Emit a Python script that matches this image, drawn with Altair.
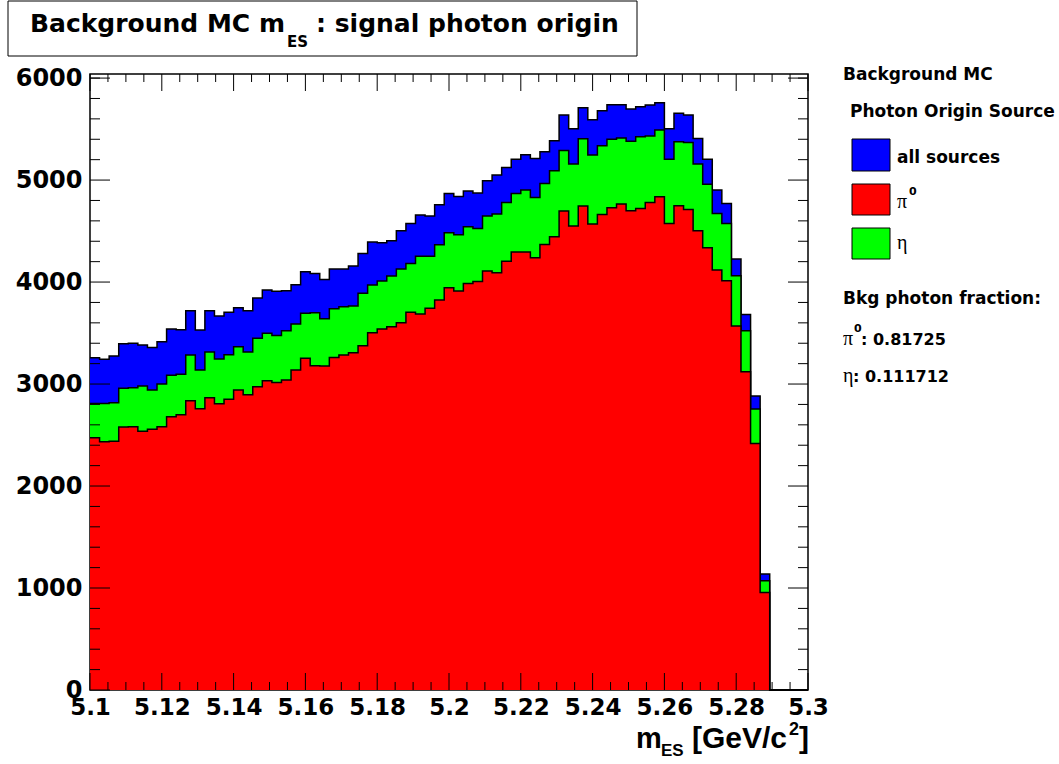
import altair as alt
import numpy as np
import pandas as pd

# ---- histogram contents (75 bins from 5.1 to 5.3 GeV/c^2) ----
all_sources = [3258, 3242, 3275, 3395, 3399, 3382, 3359, 3415, 3539, 3533,
               3719, 3529, 3719, 3667, 3703, 3748, 3719, 3843, 3922, 3909,
               3915, 3974, 4101, 4085, 4026, 4127, 4127, 4157, 4281, 4392,
               4386, 4405, 4503, 4575, 4657, 4647, 4758, 4869, 4840, 4892,
               4873, 4993, 5049, 5124, 5203, 5248, 5212, 5278, 5386, 5637,
               5503, 5709, 5591, 5680, 5739, 5739, 5696, 5719, 5735, 5758,
               5503, 5654, 5637, 5408, 5203, 4902, 4771, 4225, 3683, 2882,
               1137, 0, 0, 0, 0]
pi0_plus_eta = [2810, 2810, 2817, 2958, 2964, 2980, 2941, 3000, 3085, 3095,
                3284, 3137, 3314, 3245, 3288, 3366, 3314, 3448, 3497, 3477,
                3523, 3588, 3693, 3699, 3641, 3739, 3758, 3765, 3889, 3971,
                4010, 4059, 4127, 4183, 4252, 4252, 4366, 4484, 4464, 4542,
                4526, 4647, 4667, 4781, 4869, 4902, 4830, 4967, 5092, 5291,
                5157, 5405, 5245, 5337, 5399, 5412, 5380, 5425, 5431, 5490,
                5203, 5376, 5369, 5157, 4958, 4673, 4575, 4062, 3523, 2755,
                1072, 0, 0, 0, 0]
pi0 = [2474, 2435, 2438, 2578, 2582, 2536, 2556, 2582, 2680, 2699,
       2837, 2758, 2866, 2807, 2850, 2941, 2895, 2974, 3033, 3016,
       3039, 3137, 3252, 3180, 3176, 3261, 3284, 3307, 3376, 3503,
       3539, 3562, 3601, 3703, 3686, 3742, 3824, 3944, 3913, 3987,
       4006, 4108, 4091, 4203, 4294, 4294, 4239, 4369, 4444, 4696,
       4549, 4745, 4569, 4663, 4729, 4765, 4699, 4722, 4781, 4837,
       4575, 4748, 4712, 4503, 4337, 4118, 4013, 3570, 3121, 2418,
       957, 0, 0, 0, 0]

x_min, x_max, n_bins = 5.1, 5.3, 75
y_max = 6040

x_major = [5.1, 5.12, 5.14, 5.16, 5.18, 5.2, 5.22, 5.24, 5.26, 5.28, 5.3]
x_minor = [5.105, 5.11, 5.115, 5.125, 5.13, 5.135, 5.145, 5.15, 5.155,
           5.165, 5.17, 5.175, 5.185, 5.19, 5.195, 5.205, 5.21, 5.215,
           5.225, 5.23, 5.235, 5.245, 5.25, 5.255, 5.265, 5.27, 5.275,
           5.285, 5.29, 5.295]
y_major = [0, 1000, 2000, 3000, 4000, 5000, 6000]
y_minor = [200, 400, 600, 800, 1200, 1400, 1600, 1800, 2200, 2400, 2600, 2800,
           3200, 3400, 3600, 3800, 4200, 4400, 4600, 4800, 5200, 5400, 5600,
           5800, 6000]

edges = np.linspace(x_min, x_max, n_bins + 1)
hist = pd.DataFrame({
    "x": edges,
    "all": all_sources + [0],
    "pe": pi0_plus_eta + [0],
    "pi": pi0 + [0],
})

W, H = 718, 616
FONT = "DejaVu Sans"
HELV = "Liberation Sans"
xs = alt.Scale(domain=[x_min, x_max], nice=False, zero=False)
ys = alt.Scale(domain=[0, y_max], nice=False, zero=True)
one = pd.DataFrame({"k": [0]})

XAX = alt.Axis(values=x_major, format="~g", title=None, ticks=False,
               tickSize=0, domain=False, grid=False, labelFont=FONT,
               labelFontWeight="bold", labelFontSize=23,
               labelColor="black", labelPadding=6, labelFlush=False,
               labelOverlap=False)
YAX = alt.Axis(values=y_major, format="d", title=None, ticks=False,
               tickSize=0, domain=False, grid=False, labelFont=FONT,
               labelFontWeight="bold", labelFontSize=24,
               labelColor="black", labelPadding=8, labelFlush=False,
               labelOverlap=False)


def area(field, color):
    return alt.Chart(hist).mark_area(
        interpolate="step-after", color=color, opacity=1,
        line=alt.OverlayMarkDef(color="black", strokeWidth=1.5),
    ).encode(
        x=alt.X("x:Q", scale=xs, axis=XAX),
        y=alt.Y(f"{field}:Q", scale=ys, axis=YAX),
    )


def xticks(vals, y0, y1):
    return alt.Chart(pd.DataFrame({"x": vals})).mark_rule(
        color="black", strokeWidth=1).encode(
        x=alt.X("x:Q", scale=xs, axis=XAX),
        y=alt.value(y0), y2=alt.value(y1))


def yticks(vals, x0, x1):
    return alt.Chart(pd.DataFrame({"all": vals})).mark_rule(
        color="black", strokeWidth=1).encode(
        y=alt.Y("all:Q", scale=ys, axis=YAX),
        x=alt.value(x0), x2=alt.value(x1))


def txt(s, x, y, size, font=FONT, weight="bold", align="left"):
    return alt.Chart(one).mark_text(
        text=s, font=font, fontSize=size, fontWeight=weight, align=align,
        baseline="alphabetic", color="black").encode(
        x=alt.value(x), y=alt.value(y))


def box(x0, x1, y0, y1, fill, sw=1):
    return alt.Chart(one).mark_rect(
        fill=fill, stroke="black", strokeWidth=sw).encode(
        x=alt.value(x0), x2=alt.value(x1), y=alt.value(y0), y2=alt.value(y1))


layers = [
    area("all", "#0000ff"),
    area("pe", "#00ff00"),
    area("pi", "#ff0000"),
    # inward ticks on all four sides
    xticks(x_major, H, H - 17), xticks(x_minor, H, H - 8),
    xticks(x_major, 0, 17), xticks(x_minor, 0, 8),
    yticks(y_major, 0, 20), yticks(y_minor, 0, 10),
    yticks(y_major, W - 20, W), yticks(y_minor, W - 10, W),
    # title box
    box(-82, 547, -73, -18, "white"),
    txt("Background MC m", -60, -42, 25),
    txt("ES", 197, -27, 15),
    txt(": signal photon origin", 226, -42, 25),
    # x-axis title
    txt("m", 546, 674, 29, font=HELV),
    txt("ES", 571, 682, 17, font=HELV),
    txt("[GeV/c", 697, 674, 30, font=HELV, align="right"),
    txt("2", 699, 661, 18, font=HELV),
    txt("]", 709, 674, 30, font=HELV),
    # legend
    txt("Background MC", 753, 6, 17),
    txt("Photon Origin Source", 760, 43, 17),
    box(762, 800, 65, 97, "#0000ff"),
    box(762, 800, 110, 141, "#ff0000"),
    box(762, 800, 154, 185, "#00ff00"),
    txt("all sources", 807, 89, 17),
    txt("\u03c0", 807, 134, 20, font="Liberation Serif", weight="normal"),
    txt("0", 819, 121, 11),
    txt("\u03b7", 807, 175, 20, font="Liberation Serif", weight="normal"),
    txt("Bkg photon fraction:", 753, 230, 17),
    txt("\u03c0", 753, 271, 20, font="Liberation Serif", weight="normal"),
    txt("0", 764, 258, 11),
    txt(": 0.81725", 771, 271, 16),
    txt("\u03b7", 753, 308, 20, font="Liberation Serif", weight="normal"),
    txt(": 0.111712", 763, 308, 16),
]

chart = alt.layer(*layers).properties(
    width=W, height=H,
    padding={"left": 90, "top": 74, "right": 251, "bottom": 74},
    autosize=alt.AutoSizeParams(type="none"),
    background="white",
).configure_view(stroke="black", strokeWidth=1.5)

chart.save("out.html", embed_options={"renderer": "svg", "actions": False})
